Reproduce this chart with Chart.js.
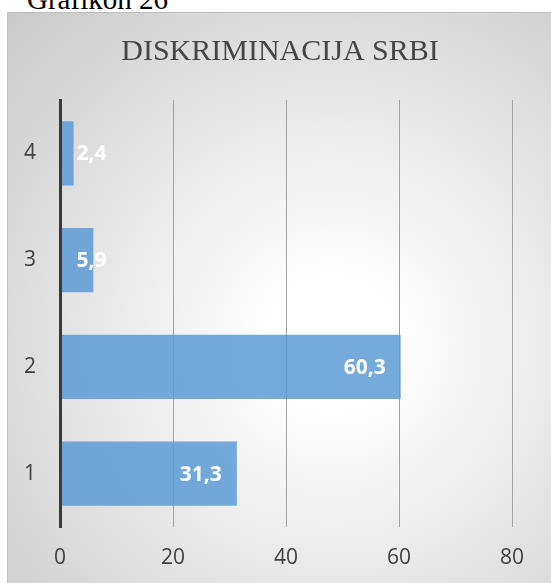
<!DOCTYPE html>
<html>
<head>
<meta charset="utf-8">
<script src="https://cdn.jsdelivr.net/npm/chart.js@4/dist/chart.umd.min.js"></script>
<style>
  html, body { margin: 0; padding: 0; background: #fff; overflow: hidden; }
  #heading {
    position: absolute; left: 27px; top: -15px;
    font-family: "Liberation Serif", serif; font-size: 29px; line-height: 29px; color: #000;
  }
  #frame {
    position: absolute; left: 7px; top: 12px; width: 560px; height: 570px;
    border-top: 1px solid #bdbdbd; border-left: 1px solid #c2c2c2;
    background: radial-gradient(ellipse at 58% 58%, #ffffff 0%, #ffffff 14%, #c9c9c9 100%);
  }
  #chart { position: absolute; left: 0; top: 0; }
</style>
</head>
<body>
<div id="heading">Grafikon 26</div>
<div id="frame"></div>
<canvas id="chart" width="551" height="583"></canvas>
<script>
const categories = ["1", "2", "3", "4"];
const values = [31.3, 60.3, 5.9, 2.4];
const xTicks = [0, 20, 40, 60, 80];
const chartTitle = "DISKRIMINACIJA SRBI";

// title centred on the whole frame, not only on the plot
const frameTitle = {
  id: "frameTitle",
  afterDraw(chart) {
    const ctx = chart.ctx;
    ctx.save();
    ctx.font = "30px 'Liberation Serif'";
    ctx.fillStyle = "#454545";
    ctx.textAlign = "center";
    ctx.textBaseline = "alphabetic";
    ctx.fillText(chartTitle, 280, 60);
    ctx.restore();
  }
};

// white value labels at the inner end of each bar
const valueLabels = {
  id: "valueLabels",
  afterDatasetsDraw(chart) {
    const ctx = chart.ctx;
    const meta = chart.getDatasetMeta(0);
    ctx.save();
    ctx.font = "bold 21px 'Open Sans'";
    ctx.fillStyle = "#ffffff";
    ctx.textBaseline = "middle";
    ctx.textAlign = "left";
    meta.data.forEach((bar, i) => {
      const txt = values[i].toFixed(1).replace(".", ",");
      const w = ctx.measureText(txt).width;
      const x = Math.max(bar.x - 15 - w, bar.base + 16);
      ctx.fillText(txt, x, bar.y + 1);
    });
    ctx.restore();
  }
};

new Chart(document.getElementById("chart"), {
  type: "bar",
  data: {
    labels: categories,
    datasets: [{
      data: values,
      backgroundColor: "rgba(91,155,213,0.85)",
      borderWidth: 0,
      categoryPercentage: 0.6,
      barPercentage: 1
    }]
  },
  plugins: [valueLabels, frameTitle],
  options: {
    indexAxis: "y",
    responsive: false,
    animation: false,
    layout: { padding: { left: 0, right: 39, top: 100, bottom: 0 } },
    plugins: {
      legend: { display: false },
      tooltip: { enabled: false },
      title: { display: false }
    },
    scales: {
      x: {
        min: 0,
        max: 80,
        afterBuildTicks(scale) { scale.ticks = xTicks.map(v => ({ value: v })); },
        afterFit(scale) { scale.height = 56; },
        grid: { color: "#a3a3a3", lineWidth: 1, drawTicks: false },
        border: { display: false },
        ticks: { color: "#404040", padding: 18, font: { family: "'Open Sans'", size: 21 } }
      },
      y: {
        reverse: true,
        afterFit(scale) { scale.width = 60; },
        grid: { display: false, drawTicks: false },
        border: { display: true, color: "#3a3a3a", width: 3, z: 1 },
        ticks: { color: "#404040", padding: 24, font: { family: "'Open Sans'", size: 21 } }
      }
    }
  }
});
</script>
</body>
</html>
